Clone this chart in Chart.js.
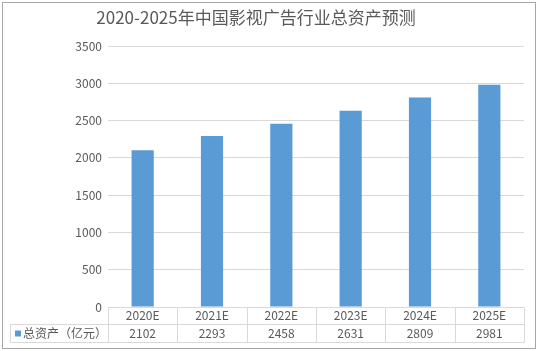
<!DOCTYPE html>
<html>
<head>
<meta charset="utf-8">
<script src="https://cdn.jsdelivr.net/npm/chart.js@4.4.1/dist/chart.umd.min.js"></script>
<style>
  html, body { margin: 0; padding: 0; background: #fff; }
  #wrap { width: 538px; height: 351px; }
</style>
</head>
<body>
<div id="wrap"><canvas id="chart" width="538" height="351"></canvas></div>
<script>
const categories = ["2020E", "2021E", "2022E", "2023E", "2024E", "2025E"];
const assets = [2102, 2293, 2458, 2631, 2809, 2981];
const yTicks = [0, 500, 1000, 1500, 2000, 2500, 3000, 3500];
const title = "2020-2025年中国影视广告行业总资产预测";
const seriesName = "总资产（亿元）";

const FONT = "'Noto Sans CJK SC', 'Noto Sans', sans-serif";
const TEXT = "#595959";
const BLUE = "#5B9BD5";
const LINE = "#D9D9D9";

// frame, title and the data table under the plot
const tablePlugin = {
  id: "table",
  beforeDraw(chart) {
    const c = chart.ctx;
    c.save();
    c.fillStyle = "#fff";
    c.fillRect(0, 0, chart.width, chart.height);
    c.strokeStyle = "#A6A6A6";
    c.lineWidth = 1;
    c.strokeRect(2.5, 2.5, chart.width - 5, chart.height - 5);
    c.fillStyle = TEXT;
    c.font = "17px " + FONT;
    c.textAlign = "center";
    c.textBaseline = "middle";
    c.fillText(title, 256, 18);
    c.restore();
  },
  afterDraw(chart) {
    const c = chart.ctx;
    const x = chart.scales.x;
    const area = chart.chartArea;
    const top = Math.round(area.bottom) + 0.5;
    const mid = top + 17;
    const bot = top + 35;
    const leftCell = 10.5;
    const right = Math.round(area.right) + 0.5;
    c.save();
    c.strokeStyle = LINE;
    c.lineWidth = 1;
    c.beginPath();
    c.moveTo(leftCell, mid); c.lineTo(right, mid);
    c.moveTo(leftCell, bot); c.lineTo(right, bot);
    c.moveTo(leftCell, mid); c.lineTo(leftCell, bot);
    const w = (area.right - area.left) / categories.length;
    for (let i = 0; i <= categories.length; i++) {
      const px = Math.round(area.left + i * w) + 0.5;
      c.moveTo(px, top); c.lineTo(px, bot);
    }
    c.stroke();

    c.font = "12px " + FONT;
    c.fillStyle = TEXT;
    c.textAlign = "center";
    c.textBaseline = "middle";
    const vy = (mid + bot) / 2;
    assets.forEach((v, i) => c.fillText(String(v), x.getPixelForValue(i), vy));

    c.fillStyle = BLUE;
    c.fillRect(15, vy - 3, 6, 6);
    c.fillStyle = TEXT;
    c.textAlign = "left";
    c.fillText(seriesName, 23, vy);
    c.restore();
  }
};

new Chart(document.getElementById("chart"), {
  type: "bar",
  data: {
    labels: categories,
    datasets: [{
      label: seriesName,
      data: assets,
      backgroundColor: BLUE,
      barPercentage: 0.32,
      categoryPercentage: 1
    }]
  },
  options: {
    responsive: false,
    animation: false,
    layout: { padding: { top: 46, right: 14, left: 0, bottom: 0 } },
    plugins: {
      legend: { display: false },
      tooltip: { enabled: false },
      title: { display: false }
    },
    scales: {
      x: {
        grid: { display: false },
        border: { display: false },
        ticks: { color: TEXT, font: { family: FONT, size: 12 }, padding: -7 },
        afterFit(s) { s.height = 44; }
      },
      y: {
        min: 0,
        max: 3500,
        afterBuildTicks(s) { s.ticks = yTicks.map(v => ({ value: v })); },
        grid: { color: LINE, drawTicks: false },
        border: { display: false },
        ticks: {
          color: TEXT,
          font: { family: FONT, size: 12 },
          padding: 6,
          callback: v => String(v)
        },
        afterFit(s) { s.width = 108; }
      }
    }
  },
  plugins: [tablePlugin]
});
</script>
</body>
</html>
